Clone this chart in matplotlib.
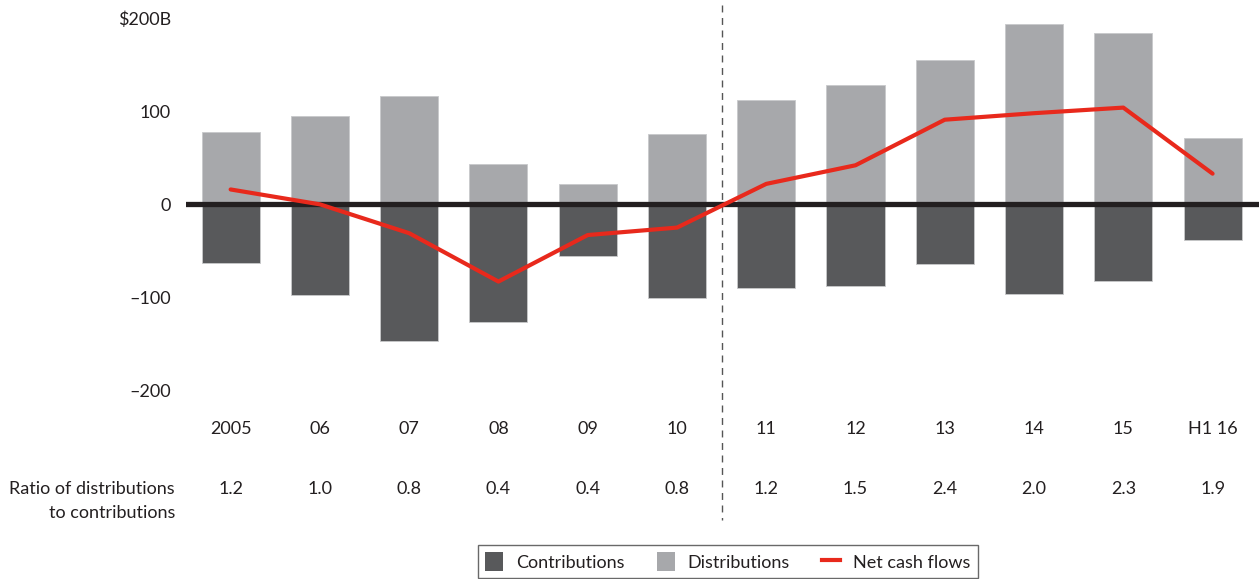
import matplotlib
matplotlib.use("Agg")
import matplotlib.pyplot as plt
import matplotlib.transforms as mtransforms
from matplotlib.patches import Patch
from matplotlib.lines import Line2D

categories = ["2005", "06", "07", "08", "09", "10", "11", "12", "13", "14", "15", "H1 16"]
distributions = [78, 95, 116, 43, 22, 76, 112, 128, 155, 194, 184, 71]
contributions = [-63, -97, -147, -126, -55, -101, -90, -88, -64, -96, -82, -38]
net_cash_flows = [16, 0, -31, -83, -33, -25, 22, 42, 91, 98, 104, 33]
ratios = ["1.2", "1.0", "0.8", "0.4", "0.4", "0.8", "1.2", "1.5", "2.4", "2.0", "2.3", "1.9"]
ytick_vals = [200, 100, 0, -100, -200]
ytick_labels = ["$200B", "100", "0", "\u2013100", "\u2013200"]

C_DIST = "#A7A8AB"
C_CONT = "#58595B"
C_RED = "#E8291C"
C_TEXT = "#231F20"

plt.rcParams["font.family"] = ["Lato", "DejaVu Sans"]
plt.rcParams["font.size"] = 13

W, H = 1259, 579
fig = plt.figure(figsize=(W / 100, H / 100), dpi=100)
ax_left, ax_right, ax_top, ax_bot = 186, 1259, 9, 409
ax = fig.add_axes([ax_left / W, 1 - ax_bot / H, (ax_right - ax_left) / W, (ax_bot - ax_top) / H])

x = list(range(len(categories)))
bw = 0.65
ax.bar(x, distributions, width=bw, color=C_DIST, edgecolor="#c8c9cb", linewidth=0.6, zorder=1)
ax.bar(x, contributions, width=bw, color=C_CONT, edgecolor="#c8c9cb", linewidth=0.6, zorder=1)
ax.axhline(0, color=C_TEXT, linewidth=3.8, zorder=2)
ax.plot(x, net_cash_flows, color=C_RED, linewidth=3, zorder=3, solid_capstyle="round")

ax.set_xlim(-0.5, 11.52)
ax.set_ylim(-220, 210)
for s in ax.spines.values():
    s.set_visible(False)

ax.set_yticks(ytick_vals)
ax.set_yticklabels(ytick_labels, color=C_TEXT, fontsize=13)
ax.tick_params(axis="y", length=0, pad=11)
ax.set_xticks(x)
ax.set_xticklabels(categories, color=C_TEXT, fontsize=13)
ax.tick_params(axis="x", length=0, pad=9)

trans = mtransforms.blended_transform_factory(ax.transData, ax.transAxes)
def ay(px):
    return (ax_bot - px) / (ax_bot - ax_top)

# dashed divider between 10 and 11
ax.plot([5.5, 5.5], [ay(5), ay(520)], transform=trans, clip_on=False,
        color="#555555", linewidth=1, linestyle=(0, (5, 4)), zorder=0)

# ratio row
for xi, r in zip(x, ratios):
    ax.text(xi, ay(489), r, transform=trans, ha="center", va="center", color=C_TEXT, fontsize=13)
fig.text(175 / W, 1 - 489 / H, "Ratio of distributions", ha="right", va="center", color=C_TEXT, fontsize=13)
fig.text(175 / W, 1 - 513 / H, "to contributions", ha="right", va="center", color=C_TEXT, fontsize=13)

handles = [Patch(facecolor=C_CONT, edgecolor="none"),
           Patch(facecolor=C_DIST, edgecolor="none"),
           Line2D([0], [0], color=C_RED, linewidth=3)]
leg = fig.legend(handles, ["Contributions", "Distributions", "Net cash flows"],
                 loc="upper left", bbox_to_anchor=(478 / W, 1 - 545 / H), ncol=3,
                 frameon=True, fancybox=False, fontsize=13, handlelength=1.0, handleheight=1.2,
                 handletextpad=0.7, columnspacing=1.8, borderpad=0.4, borderaxespad=0)
leg.get_frame().set_edgecolor("#444444")
leg.get_frame().set_linewidth(1)
for t in leg.get_texts():
    t.set_color(C_TEXT)

fig.savefig("out.png", dpi=100)
